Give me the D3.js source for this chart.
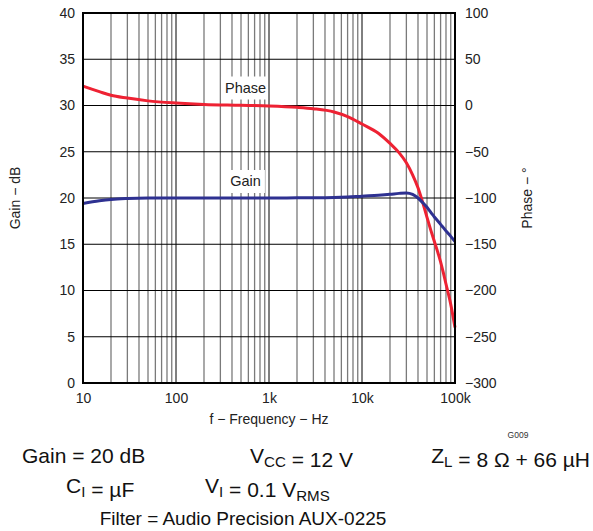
<!DOCTYPE html>
<html>
<head>
<meta charset="utf-8">
<script src="https://cdn.jsdelivr.net/npm/d3@7"></script>
<style>
  html, body { margin: 0; padding: 0; background: #fff; }
  svg { display: block; font-family: "Liberation Sans", Arial, Helvetica, sans-serif; }
</style>
</head>
<body>
<svg id="chart" width="593" height="531"></svg>
<script>
// ---- data ----
const freq  = [10, 15, 20, 30, 50, 100, 200, 500, 1000, 2000, 3000, 5000, 7000, 10000, 15000, 20000, 25000, 30000, 35000, 40000, 45000, 50000, 55000, 60000, 65000, 70000, 75000, 80000, 90000, 100000];
const phaseDeg = [21, 15, 11, 8, 5, 2.7, 1.2, 0.3, -0.5, -2, -3.5, -7, -12, -20, -30, -41, -51, -62, -75, -89, -105, -121, -135, -147, -158, -169, -181, -193, -215, -240];
const gainDb   = [19.4, 19.7, 19.85, 19.95, 20.0, 20.0, 20.0, 20.0, 20.0, 20.02, 20.03, 20.05, 20.1, 20.2, 20.3, 20.4, 20.5, 20.55, 20.4, 20.0, 19.5, 19.0, 18.45, 17.95, 17.55, 17.15, 16.8, 16.45, 15.85, 15.3];
const xTickValues = [10, 100, 1000, 10000, 100000];
const xTickLabels = ["10", "100", "1k", "10k", "100k"];
const gainTicks  = [0, 5, 10, 15, 20, 25, 30, 35, 40];
const phaseTicks = [100, 50, 0, -50, -100, -150, -200, -250, -300];

// ---- layout ----
const L = 83, R = 455, T = 13, B = 383;
const svg = d3.select("#chart");
const x = d3.scaleLog().domain([10, 100000]).range([L, R]);
const yG = d3.scaleLinear().domain([0, 40]).range([B, T]);
const yP = d3.scaleLinear().domain([-300, 100]).range([B, T]);

// minor grid
const minor = [];
for (let d = 10; d < 100000; d *= 10) for (let k = 2; k <= 9; k++) minor.push(d * k);
svg.append("g").selectAll("line").data(minor).join("line")
  .attr("x1", d => x(d)).attr("x2", d => x(d)).attr("y1", T).attr("y2", B)
  .attr("stroke", "#7a7a7a").attr("stroke-width", 1.3);

// label knock-outs over minor grid
const labels = [
  { text: "Phase", f: 560, y: yG(30) - 13 },
  { text: "Gain", f: 560, y: yG(20) - 12 }
];
const lblG = svg.append("g");
labels.forEach(l => {
  const t = svg.append("text").attr("x", x(l.f)).attr("y", l.y)
    .attr("text-anchor", "middle").attr("font-size", 14.5).text(l.text);
  const bb = t.node().getBBox();
  t.remove();
  lblG.append("rect").attr("x", bb.x - 4).attr("y", bb.y - 3)
    .attr("width", bb.width + 8).attr("height", bb.height + 7).attr("fill", "#fff");
});

// major grid
svg.append("g").selectAll("line").data(xTickValues).join("line")
  .attr("x1", d => x(d)).attr("x2", d => x(d)).attr("y1", T).attr("y2", B)
  .attr("stroke", "#000").attr("stroke-width", 1);
svg.append("g").selectAll("line").data(gainTicks).join("line")
  .attr("x1", L).attr("x2", R).attr("y1", d => yG(d)).attr("y2", d => yG(d))
  .attr("stroke", "#000").attr("stroke-width", 1);

// curves
const pts = freq.map((f, i) => ({ f, g: gainDb[i], p: phaseDeg[i] }));
svg.append("path").datum(pts)
  .attr("d", d3.line().x(d => x(d.f)).y(d => yP(d.p)).curve(d3.curveMonotoneX))
  .attr("fill", "none").attr("stroke", "#EE2233").attr("stroke-width", 3);
svg.append("path").datum(pts)
  .attr("d", d3.line().x(d => x(d.f)).y(d => yG(d.g)).curve(d3.curveMonotoneX))
  .attr("fill", "none").attr("stroke", "#2E3191").attr("stroke-width", 3);

// frame
svg.append("rect").attr("x", L).attr("y", T).attr("width", R - L).attr("height", B - T)
  .attr("fill", "none").attr("stroke", "#000").attr("stroke-width", 2);

// in-plot labels
labels.forEach(l => {
  svg.append("text").attr("x", x(l.f)).attr("y", l.y)
    .attr("text-anchor", "middle").attr("font-size", 14.5).attr("fill", "#222").text(l.text);
});

// axes labels
const axL = d3.axisLeft(yG).tickValues(gainTicks).tickSize(0).tickPadding(8);
const gl = svg.append("g").attr("transform", `translate(${L},0)`).call(axL);
const axR = d3.axisRight(yP).tickValues(phaseTicks).tickSize(0).tickPadding(10)
  .tickFormat(d => d < 0 ? "\u2212" + Math.abs(d) : String(d));
const gr = svg.append("g").attr("transform", `translate(${R},0)`).call(axR);
const axB = d3.axisBottom(x).tickValues(xTickValues).tickSize(0).tickPadding(10)
  .tickFormat((d, i) => xTickLabels[i]);
const gb = svg.append("g").attr("transform", `translate(0,${B})`).call(axB);
[gl, gr, gb].forEach(g => {
  g.select(".domain").remove();
  g.selectAll("text").attr("font-size", 14).attr("fill", "#222")
    .attr("font-family", "'Liberation Sans', Arial, sans-serif");
});

// axis titles
svg.append("text").attr("transform", `translate(20,${(T + B) / 2}) rotate(-90)`)
  .attr("text-anchor", "middle").attr("font-size", 14).attr("fill", "#222").text("Gain \u2212 dB");
svg.append("text").attr("transform", `translate(532,${(T + B) / 2}) rotate(-90)`)
  .attr("text-anchor", "middle").attr("font-size", 14).attr("fill", "#222").text("Phase \u2212 \u00B0");
svg.append("text").attr("x", (L + R) / 2).attr("y", 424)
  .attr("text-anchor", "middle").attr("font-size", 14).attr("fill", "#222").text("f \u2212 Frequency \u2212 Hz");
svg.append("text").attr("x", 518).attr("y", 438)
  .attr("text-anchor", "middle").attr("font-size", 8.5).attr("fill", "#333").text("G009");

// conditions text
function cond(xp, yp, parts, size, anchor) {
  const t = svg.append("text").attr("x", xp).attr("y", yp).attr("font-size", size)
    .attr("fill", "#111").attr("text-anchor", anchor || "start");
  parts.forEach(p => {
    if (typeof p === "string") t.append("tspan").text(p);
    else {
      t.append("tspan").attr("dy", 4).attr("font-size", size * 0.72).text(p.sub);
      t.append("tspan").attr("dy", -4).text("");
    }
  });
}
cond(22, 463, ["Gain = 20 dB"], 21);
cond(250, 463, ["V", { sub: "CC" }, " = 12 V"], 21);
cond(590, 463, ["Z", { sub: "L" }, " = 8 \u03A9 + 66 \u00B5H"], 21, "end");
cond(66, 493, ["C", { sub: "I" }, " = \u00B5F"], 21);
cond(205, 493, ["V", { sub: "I" }, " = 0.1 V", { sub: "RMS" }], 21);
cond(243, 525, ["Filter = Audio Precision AUX-0225"], 19, "middle");
</script>
</body>
</html>
